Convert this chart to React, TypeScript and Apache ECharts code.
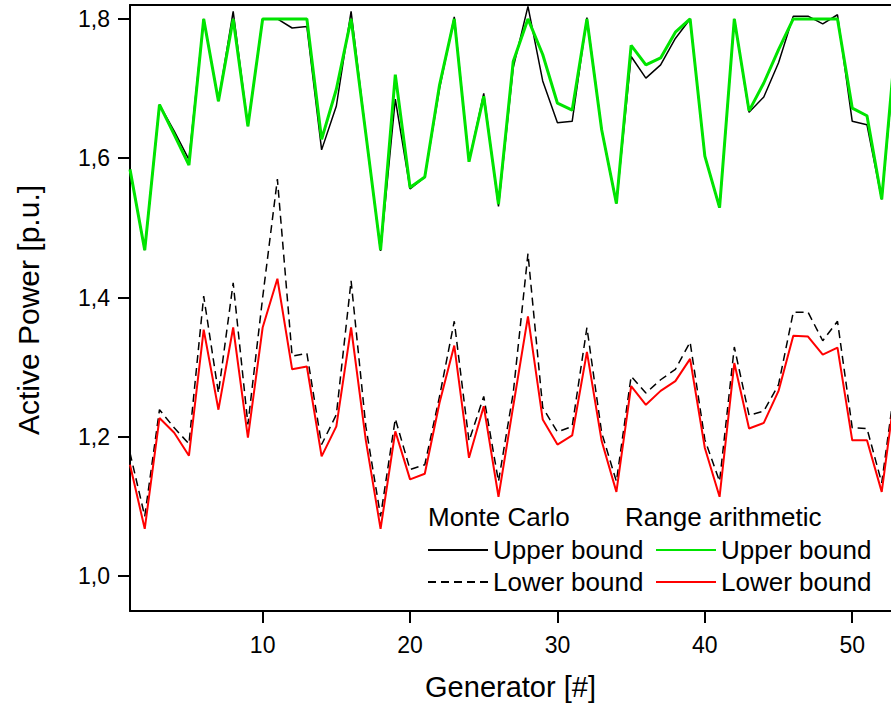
import React, { useEffect, useRef } from "react";
import * as echarts from "echarts";

const generators = [
  1, 2, 3, 4, 5, 6, 7, 8, 9, 10, 11, 12, 13, 14, 15, 16, 17, 18, 19, 20, 21, 22, 23, 24, 25, 26, 27,
  28, 29, 30, 31, 32, 33, 34, 35, 36, 37, 38, 39, 40, 41, 42, 43, 44, 45, 46, 47, 48, 49, 50, 51, 52, 53,
];

const mcUpper = [
  1.584, 1.468, 1.677, 1.639, 1.598, 1.8, 1.682, 1.811, 1.646, 1.8, 1.8, 1.787, 1.789, 1.612, 1.675,
  1.811, 1.635, 1.467, 1.685, 1.556, 1.573, 1.7, 1.803, 1.595, 1.693, 1.531, 1.73, 1.818, 1.711, 1.651,
  1.653, 1.802, 1.641, 1.535, 1.746, 1.715, 1.734, 1.772, 1.8, 1.603, 1.529, 1.8, 1.666, 1.688, 1.737,
  1.804, 1.804, 1.793, 1.806, 1.653, 1.648, 1.541, 1.77,
];

const raUpper = [
  1.584, 1.468, 1.677, 1.634, 1.59, 1.8, 1.682, 1.8, 1.646, 1.8, 1.8, 1.8, 1.8, 1.627, 1.699, 1.8,
  1.635, 1.468, 1.72, 1.558, 1.573, 1.705, 1.8, 1.595, 1.689, 1.534, 1.739, 1.8, 1.749, 1.679, 1.669,
  1.8, 1.641, 1.535, 1.762, 1.734, 1.744, 1.781, 1.8, 1.603, 1.529, 1.8, 1.668, 1.708, 1.756, 1.8, 1.8,
  1.8, 1.8, 1.672, 1.661, 1.541, 1.78,
];

const mcLower = [
  1.177, 1.086, 1.239, 1.213, 1.19, 1.402, 1.263, 1.421, 1.218, 1.4, 1.57, 1.316, 1.32, 1.189, 1.232,
  1.424, 1.215, 1.086, 1.226, 1.153, 1.16, 1.258, 1.366, 1.194, 1.258, 1.136, 1.263, 1.463, 1.242,
  1.207, 1.215, 1.357, 1.206, 1.136, 1.287, 1.263, 1.282, 1.297, 1.336, 1.196, 1.136, 1.329, 1.231,
  1.237, 1.275, 1.379, 1.379, 1.338, 1.366, 1.213, 1.212, 1.134, 1.29,
];

const raLower = [
  1.16, 1.068, 1.227, 1.206, 1.173, 1.354, 1.239, 1.357, 1.199, 1.357, 1.427, 1.297, 1.301, 1.172,
  1.215, 1.357, 1.195, 1.068, 1.208, 1.139, 1.147, 1.249, 1.331, 1.17, 1.244, 1.114, 1.244, 1.373,
  1.225, 1.189, 1.202, 1.322, 1.194, 1.121, 1.273, 1.246, 1.266, 1.28, 1.312, 1.184, 1.114, 1.306,
  1.212, 1.22, 1.266, 1.345, 1.344, 1.318, 1.328, 1.195, 1.195, 1.121, 1.28,
];

const xTicks = [10, 20, 30, 40, 50];
const yTicks = [1.0, 1.2, 1.4, 1.6, 1.8];
const groupTitles = ["Monte Carlo", "Range arithmetic"];
const boundLabels = ["Upper bound", "Lower bound"];
const yTitle = "Active Power [p.u.]";
const xTitle = "Generator [#]";

const FONT = "'Liberation Sans', Arial, Helvetica, sans-serif";

export default function App() {
  const ref = useRef<HTMLDivElement>(null);

  useEffect(() => {
    if (!ref.current) return;
    const chart = echarts.init(ref.current, undefined, { renderer: "svg" });
    const pairs = (vals: number[]) => generators.map((g, i) => [g, vals[i]]);
    const labelMap: Record<string, string> = {
      "MC Upper": boundLabels[0],
      "MC Lower": boundLabels[1],
      "RA Upper": boundLabels[0],
      "RA Lower": boundLabels[1],
    };
    const legendCommon = {
      orient: "vertical" as const,
      itemWidth: 60,
      itemHeight: 14,
      itemGap: 4,
      padding: 0,
      itemStyle: { opacity: 0 },
      textStyle: { fontFamily: FONT, fontSize: 26, color: "#000", lineHeight: 28 },
      formatter: (name: string) => labelMap[name] ?? name,
    };
    const xMin = 1;
    const xMax = 52.63;

    chart.setOption({
      animation: false,
      backgroundColor: "#fff",
      grid: {
        left: 130,
        right: 0,
        top: 5,
        bottom: 94,
        show: false,
      },
      xAxis: [
        {
          type: "value",
          min: xMin,
          max: xMax,
          name: xTitle,
          nameLocation: "middle",
          nameGap: 61,
          nameTextStyle: { fontFamily: FONT, fontSize: 29, color: "#000" },
          axisLine: { show: true, lineStyle: { color: "#000", width: 2 } },
          axisTick: {
            show: true,
            inside: false,
            length: 12,
            customValues: xTicks,
            lineStyle: { color: "#000", width: 2 },
          },
          axisLabel: {
            customValues: xTicks,
            margin: 22,
            fontFamily: FONT,
            fontSize: 23,
            color: "#000",
          },
          splitLine: { show: false },
        },
        {
          type: "value",
          position: "top",
          min: xMin,
          max: xMax,
          axisLine: { show: true, lineStyle: { color: "#000", width: 2 } },
          axisTick: { show: false },
          axisLabel: { show: false },
          splitLine: { show: false },
        },
      ],
      yAxis: {
        type: "value",
        min: 0.95,
        max: 1.82,
        axisLine: { show: true, lineStyle: { color: "#000", width: 2 } },
        axisTick: {
          show: true,
          inside: false,
          length: 12,
          customValues: yTicks,
          lineStyle: { color: "#000", width: 2 },
        },
        axisLabel: {
          customValues: yTicks,
          margin: 20,
          fontFamily: FONT,
          fontSize: 23,
          color: "#000",
          formatter: (v: number) => v.toFixed(1).replace(".", ","),
        },
        splitLine: { show: false },
      },
      legend: [
        { ...legendCommon, left: 427, top: 536, data: ["MC Upper", "MC Lower"] },
        { ...legendCommon, left: 655, top: 536, data: ["RA Upper", "RA Lower"] },
      ],
      graphic: [
        {
          type: "text",
          x: 28,
          y: 310,
          rotation: Math.PI / 2,
          style: {
            text: yTitle,
            font: `30px ${FONT}`,
            fill: "#000",
            align: "center",
            verticalAlign: "middle",
          },
        },
        {
          type: "text",
          left: 428,
          top: 504,
          style: { text: groupTitles[0], font: `26px ${FONT}`, fill: "#000" },
        },
        {
          type: "text",
          left: 625,
          top: 504,
          style: { text: groupTitles[1], font: `26px ${FONT}`, fill: "#000" },
        },
      ],
      series: [
        {
          name: "MC Upper",
          type: "line",
          data: pairs(mcUpper),
          symbol: "none",
          lineStyle: { color: "#000", width: 1.5 },
          itemStyle: { color: "#000" },
          z: 2,
        },
        {
          name: "MC Lower",
          type: "line",
          data: pairs(mcLower),
          symbol: "none",
          lineStyle: { color: "#000", width: 1.5, type: [8, 5] },
          itemStyle: { color: "#000" },
          z: 2,
        },
        {
          name: "RA Upper",
          type: "line",
          data: pairs(raUpper),
          symbol: "none",
          lineStyle: { color: "#00e400", width: 3 },
          itemStyle: { color: "#00e400" },
          z: 3,
        },
        {
          name: "RA Lower",
          type: "line",
          data: pairs(raLower),
          symbol: "none",
          lineStyle: { color: "#ff0000", width: 2 },
          itemStyle: { color: "#ff0000" },
          z: 3,
        },
      ],
    });
    return () => chart.dispose();
  }, []);

  return (
    <div
      ref={ref}
      style={{ position: "absolute", left: 0, top: 0, width: 891, height: 706, background: "#fff" }}
    />
  );
}
